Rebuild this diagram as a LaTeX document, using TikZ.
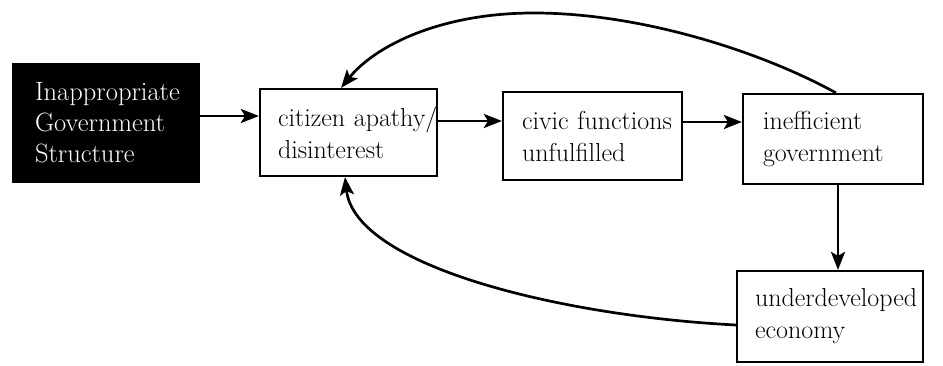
\documentclass[tikz,border=0pt]{standalone}
\usetikzlibrary{arrows.meta}
\begin{document}
\begin{tikzpicture}[x=1pt,y=1pt,
  box/.style={draw=black, line width=2.2pt, fill=white, align=left, anchor=center,
    inner xsep=0pt, inner ysep=0pt, font=\fontsize{26}{32}\selectfont,
    execute at begin node={\hyphenpenalty=10000\hbadness=10000\hfuzz=100pt}},
  blkbox/.style={fill=black, text=white, align=left, anchor=center,
    inner xsep=0pt, inner ysep=0pt, font=\fontsize{26.5}{31}\selectfont,
    execute at begin node={\hyphenpenalty=10000\hbadness=10000\hfuzz=100pt}},
  conn/.style={line width=2.7pt, -{Stealth[length=18pt,width=14pt,inset=4pt]}}
]
\useasboundingbox (0,0) rectangle (943,366);
\node[blkbox, minimum width=188pt, minimum height=120pt, text width=188pt-46pt] (blk) at (106,243) {Inappropriate\\Government\\Structure};
\node[box, minimum width=177pt, minimum height=87pt, text width=177pt-36pt] (cit) at (348.5,233.5) {citizen~apathy/\\disinterest};
\node[box, minimum width=179pt, minimum height=88pt, text width=179pt-38pt] (civ) at (592.5,230) {civic~functions\\unfulfilled};
\node[box, minimum width=180pt, minimum height=90pt, text width=180pt-40pt] (ine) at (833,227) {inefficient\\government};
\node[box, minimum width=186pt, minimum height=91pt, text width=186pt-36pt] (und) at (830,49.5) {underdeveloped\\economy};
\coordinate (peak) at (534,353);
% straight connectors
\draw[conn] (blk.east |- 0,250) -- (cit.west |- 0,250);
\draw[conn] (cit.east |- 0,245) -- (civ.west |- 0,245);
\draw[conn] (civ.east |- 0,244) -- (ine.west |- 0,244);
\draw[conn] (ine.south -| 838,0) -- (und.north -| 838,0);
% feedback curves
\draw[conn] (ine.north -| 836,0) .. controls (760,315) and (640,353) .. (peak)
  .. controls (440,353) and (375,320) .. (cit.north -| 341,0);
\draw[conn] (und.west |- 0,41) .. controls (560,50) and (355,100) .. (cit.south -| 345,0);
\end{tikzpicture}
\end{document}
